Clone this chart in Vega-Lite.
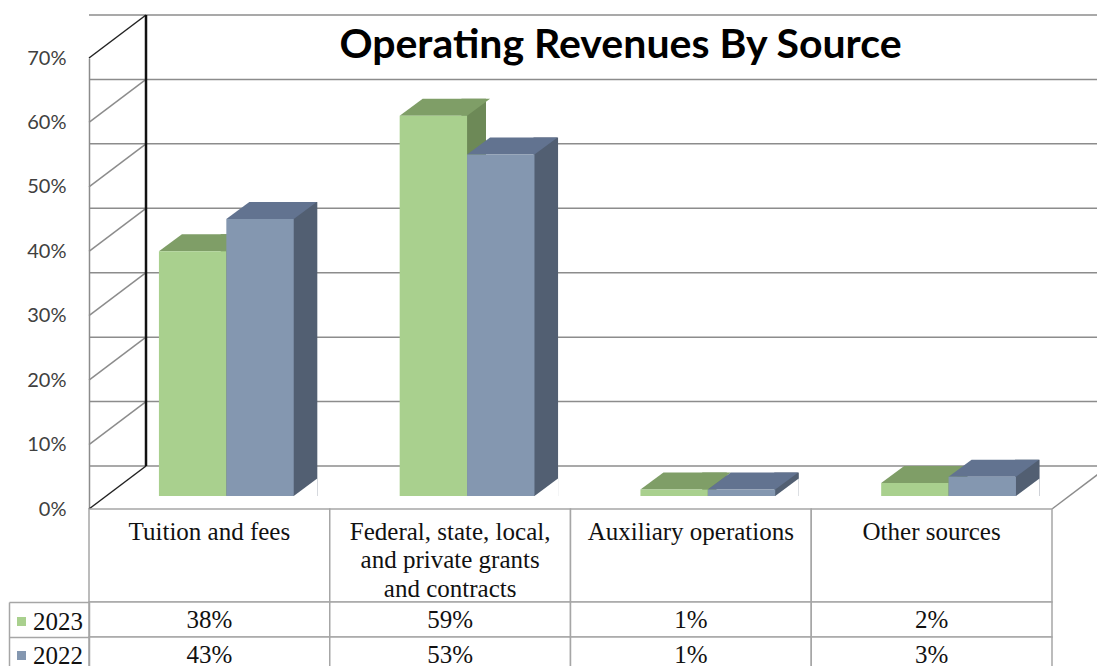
{
  "$schema": "https://vega.github.io/schema/vega-lite/v6.json",
  "padding": {"left": 8, "top": 13, "right": 0, "bottom": 0},
  "background": "white",
  "spacing": 0,
  "bounds": "flush",
  "config": {"view": {"stroke": null}, "font": "Lato"},
  "datasets": {
    "rev": [
      {"source": "Tuition and fees", "year": "2023", "value": 0.38},
      {"source": "Tuition and fees", "year": "2022", "value": 0.43},
      {"source": "Federal, state, local, and private grants and contracts", "year": "2023", "value": 0.59},
      {"source": "Federal, state, local, and private grants and contracts", "year": "2022", "value": 0.53},
      {"source": "Auxiliary operations", "year": "2023", "value": 0.01},
      {"source": "Auxiliary operations", "year": "2022", "value": 0.01},
      {"source": "Other sources", "year": "2023", "value": 0.02},
      {"source": "Other sources", "year": "2022", "value": 0.03}
    ],
    "grid": [{"v": 0}, {"v": 0.1}, {"v": 0.2}, {"v": 0.3}, {"v": 0.4}, {"v": 0.5}, {"v": 0.6}, {"v": 0.7}],
    "cats": [
      {"source": "Tuition and fees", "label": "Tuition and fees"},
      {"source": "Federal, state, local, and private grants and contracts", "label": "Federal, state, local,\nand private grants\nand contracts"},
      {"source": "Auxiliary operations", "label": "Auxiliary operations"},
      {"source": "Other sources", "label": "Other sources"}
    ],
    "one": [{"k": 1}]
  },
  "vconcat": [
    {
      "width": 963,
      "height": 451,
      "title": {"text": "Operating Revenues By Source", "font": "Lato", "fontSize": 41, "fontWeight": "bold", "color": "#000000", "anchor": "middle", "frame": "group", "dx": 50, "offset": -53},
      "resolve": {"scale": {"xOffset": "independent"}},
      "layer": [
        {
          "data": {"name": "grid"},
          "mark": {"type": "rule", "color": "#8c8c8c", "strokeWidth": 1.5, "xOffset": 57, "yOffset": -43},
          "encoding": {
            "y": {"field": "v", "type": "quantitative", "scale": {"domain": [0, 0.7]},
              "axis": {"values": [0, 0.1, 0.2, 0.3, 0.4, 0.5, 0.6, 0.7], "format": ".0%", "grid": false, "ticks": false, "tickSize": 0, "domainColor": "#8c8c8c", "domainWidth": 1.5, "labelFont": "Lato", "labelFontSize": 20, "labelColor": "#404040", "labelPadding": 23, "title": null}}
          }
        },
        {
          "data": {"name": "grid"},
          "mark": {"type": "rule", "strokeWidth": 1.5, "x2Offset": 57, "y2Offset": -43},
          "encoding": {
            "x": {"datum": "Tuition and fees", "type": "nominal", "bandPosition": 0, "scale": {"domain": ["Tuition and fees", "Federal, state, local, and private grants and contracts", "Auxiliary operations", "Other sources"], "paddingInner": 0, "paddingOuter": 0}, "axis": null},
            "x2": {"datum": "Tuition and fees", "bandPosition": 0},
            "y": {"field": "v", "type": "quantitative", "title": null},
            "y2": {"field": "v"},
            "color": {"condition": {"test": "datum.v == 0 || datum.v == 0.7", "value": "#222222"}, "value": "#8c8c8c"}
          }
        },
        {
          "data": {"name": "one"},
          "mark": {"type": "rule", "strokeWidth": 2.5, "color": "#111111", "xOffset": 57, "yOffset": -43, "y2Offset": -43},
          "encoding": {
            "x": {"datum": "Tuition and fees", "type": "nominal", "bandPosition": 0},
            "y": {"datum": 0, "type": "quantitative", "title": null},
            "y2": {"datum": 0.7}
          }
        },
        {
          "data": {"name": "one"},
          "mark": {"type": "rule", "strokeWidth": 1.5, "color": "#8c8c8c", "x2Offset": 57, "y2Offset": -43},
          "encoding": {
            "x": {"datum": "Other sources", "type": "nominal", "bandPosition": 1},
            "x2": {"datum": "Other sources", "bandPosition": 1},
            "y": {"datum": 0, "type": "quantitative", "title": null},
            "y2": {"datum": 0}
          }
        },
        {
          "data": {"name": "rev"},
          "mark": {"type": "bar", "yOffset": -30, "y2Offset": -13},
          "encoding": {
            "x": {"field": "source", "type": "nominal"},
            "xOffset": {"field": "year", "type": "nominal", "scale": {"type": "band", "domain": ["2023", "2022"], "paddingInner": 0.659, "paddingOuter": 1.1155, "align": 0.9137}},
            "y": {"field": "value", "type": "quantitative", "title": null},
            "y2": {"datum": 0},
            "color": {"condition": {"test": "datum.year == '2023'", "value": "#6d8957"}, "value": "#525f72"}
          }
        },
        {
          "data": {"name": "rev"},
          "mark": {"type": "point", "shape": "M33.7,0L57.2,0L57.2,-17.5Z", "size": 4, "filled": true, "opacity": 1, "strokeWidth": 0, "fill": "#ffffff", "yOffset": -13},
          "encoding": {
            "x": {"field": "source", "type": "nominal"},
            "xOffset": {"field": "year", "type": "nominal", "scale": {"type": "band", "domain": ["2023", "2022"], "paddingInner": 0, "paddingOuter": 0.786, "align": 0.66}},
            "y": {"datum": 0, "type": "quantitative", "title": null}
          }
        },
        {
          "data": {"name": "rev"},
          "mark": {"type": "point", "shape": "M-33.7,0L33.7,0L56.7,-17L-10.7,-17Z", "size": 4, "filled": true, "opacity": 1, "strokeWidth": 0, "yOffset": -13},
          "encoding": {
            "x": {"field": "source", "type": "nominal"},
            "xOffset": {"field": "year", "type": "nominal", "scale": {"type": "band", "domain": ["2023", "2022"], "paddingInner": 0, "paddingOuter": 0.786, "align": 0.66}},
            "y": {"field": "value", "type": "quantitative", "title": null},
            "fill": {"condition": {"test": "datum.year == '2023'", "value": "#7f9e67"}, "value": "#627390"}
          }
        },
        {
          "data": {"name": "rev"},
          "mark": {"type": "bar", "yOffset": -13, "y2Offset": -13},
          "encoding": {
            "x": {"field": "source", "type": "nominal"},
            "xOffset": {"field": "year", "type": "nominal", "scale": {"type": "band", "domain": ["2023", "2022"], "paddingInner": 0, "paddingOuter": 0.786, "align": 0.66}},
            "y": {"field": "value", "type": "quantitative", "title": null},
            "y2": {"datum": 0},
            "fill": {"field": "year", "type": "nominal", "scale": {"domain": ["2023", "2022"], "range": ["#a9d08e", "#8497b0"]},
              "legend": {"orient": "none", "legendX": -80, "legendY": 551, "title": null, "symbolType": "square", "symbolSize": 81, "symbolStrokeWidth": 0, "labelFont": "Liberation Serif", "labelFontSize": 25, "labelColor": "#111111", "labelOffset": -1, "rowPadding": 8, "padding": 0}}
          }
        }
      ]
    },
    {
      "width": 963,
      "height": 93,
      "data": {"name": "cats"},
      "encoding": {
        "x": {"field": "source", "type": "nominal", "scale": {"domain": ["Tuition and fees", "Federal, state, local, and private grants and contracts", "Auxiliary operations", "Other sources"], "paddingInner": 0, "paddingOuter": 0}, "axis": null}
      },
      "layer": [
        {"mark": {"type": "rect", "fill": "#ffffff", "stroke": "#a6a6a6", "strokeWidth": 1.5}},
        {"mark": {"type": "text", "font": "Liberation Serif", "fontSize": 25, "baseline": "top", "dy": -36, "lineHeight": 28.5, "lineBreak": "\n", "color": "#111111"},
         "encoding": {"text": {"field": "label", "type": "nominal"}}}
      ]
    },
    {
      "width": 963,
      "height": 70,
      "data": {"name": "rev"},
      "resolve": {"scale": {"y": "independent"}, "axis": {"y": "independent"}},
      "layer": [
        {"mark": {"type": "rect", "fill": "#ffffff", "stroke": "#a6a6a6", "strokeWidth": 1.5},
         "encoding": {
           "x": {"field": "source", "type": "nominal", "scale": {"domain": ["Tuition and fees", "Federal, state, local, and private grants and contracts", "Auxiliary operations", "Other sources"], "paddingInner": 0, "paddingOuter": 0}, "axis": null},
           "y": {"field": "year", "type": "nominal", "scale": {"domain": ["2023", "2022"], "paddingInner": 0, "paddingOuter": 0},
             "axis": {"orient": "left", "labels": false, "ticks": true, "tickBand": "extent", "tickSize": 80, "tickColor": "#a6a6a6", "tickWidth": 1.5, "domainColor": "#a6a6a6", "domainWidth": 1.5, "title": null}}
         }},
        {"mark": {"type": "text", "font": "Liberation Serif", "fontSize": 25, "color": "#111111"},
         "encoding": {
           "x": {"field": "source", "type": "nominal"},
           "y": {"field": "year", "type": "nominal", "scale": {"domain": ["2023", "2022"], "paddingInner": 0, "paddingOuter": 0},
             "axis": {"orient": "left", "offset": 80, "labels": false, "ticks": false, "domainColor": "#a6a6a6", "domainWidth": 1.5, "title": null}},
           "text": {"field": "value", "type": "quantitative", "format": ".0%"}
         }}
      ]
    }
  ]
}
